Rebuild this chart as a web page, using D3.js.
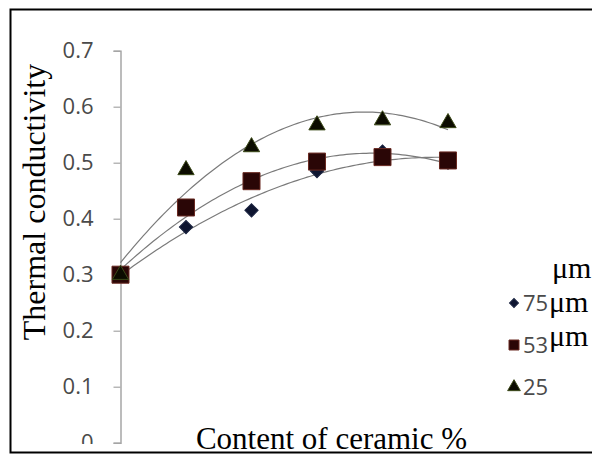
<!DOCTYPE html>
<html>
<head>
<meta charset="utf-8">
<script src="https://cdn.jsdelivr.net/npm/d3@7"></script>
<style>
  html, body { margin: 0; padding: 0; background: #fff; }
  svg { display: block; }
</style>
</head>
<body>
<svg id="chart" width="592" height="455"></svg>
<script>
// ---- data ----
const contents = [0, 1, 2, 3, 4, 5];             // category positions (content of ceramic)
const series75 = [0.30, 0.385, 0.415, 0.485, 0.52, 0.50];
const series53 = [0.30, 0.42, 0.467, 0.502, 0.51, 0.504];
const series25 = [0.30, 0.487, 0.528, 0.567, 0.576, 0.571];
const seriesNames = ["75", "53", "25"];
const unitLabel = "μm";
const yTicks = [0, 0.1, 0.2, 0.3, 0.4, 0.5, 0.6, 0.7];
const yTitle = "Thermal conductivity";
const xTitle = "Content of ceramic %";

const svg = d3.select("#chart");

const x = d3.scaleLinear().domain([0, 5]).range([120.5, 448]);
const y = d3.scaleLinear().domain([0, 0.7]).range([442.7, 50.7]);

// clip region for chart contents (picture is cut at bottom)
svg.append("defs").append("clipPath").attr("id", "clip")
  .append("rect").attr("x", 0).attr("y", 0).attr("width", 592).attr("height", 444);

const g = svg.append("g").attr("clip-path", "url(#clip)");

// y axis
const yAxis = d3.axisLeft(y).tickValues(yTicks).tickSize(7).tickPadding(20)
  .tickFormat(d => d === 0 ? "0" : d3.format(".1f")(d));
const ax = g.append("g").attr("transform", "translate(120.5,0)").call(yAxis);
ax.select(".domain").attr("stroke", "#a6a6a6").attr("stroke-width", 1.5);
ax.selectAll(".tick line").attr("stroke", "#a6a6a6").attr("stroke-width", 1.2);
ax.selectAll(".tick text")
  .attr("fill", "#4a4a4a")
  .style("font-family", "'Open Sans', sans-serif")
  .style("font-size", "22px");

// quadratic least-squares trendline
function quadFit(xs, ys) {
  let s = [0,0,0,0,0], t = [0,0,0];
  xs.forEach((xv, i) => {
    for (let k = 0; k < 5; k++) s[k] += Math.pow(xv, k);
    for (let k = 0; k < 3; k++) t[k] += Math.pow(xv, k) * ys[i];
  });
  const M = [[s[0], s[1], s[2], t[0]], [s[1], s[2], s[3], t[1]], [s[2], s[3], s[4], t[2]]];
  for (let i = 0; i < 3; i++) {
    for (let j = i + 1; j < 3; j++) {
      const f = M[j][i] / M[i][i];
      for (let k = i; k < 4; k++) M[j][k] -= f * M[i][k];
    }
  }
  const c = [0,0,0];
  for (let i = 2; i >= 0; i--) {
    let v = M[i][3];
    for (let k = i + 1; k < 3; k++) v -= M[i][k] * c[k];
    c[i] = v / M[i][i];
  }
  return xv => c[0] + c[1] * xv + c[2] * xv * xv;
}

const allSeries = [
  { name: seriesNames[0], values: series75, symbol: d3.symbolSquare, rot: 45, size: 88, fill: "#0e1530", stroke: "#1a2340", lsize: 40 },
  { name: seriesNames[1], values: series53, symbol: d3.symbolSquare, rot: 0, size: 290, fill: "#2a0606", stroke: "#6a2a22", lsize: 100 },
  { name: seriesNames[2], values: series25, symbol: d3.symbolTriangle, rot: 0, size: 115, fill: "#0c0c00", stroke: "#3c4a18", lsize: 70 }
];

const samples = d3.range(0, 5.0001, 0.05);
const line = d3.line().x(d => x(d[0])).y(d => y(d[1])).curve(d3.curveLinear);

allSeries.forEach(s => {
  const f = quadFit(contents, s.values);
  g.append("path")
    .attr("d", line(samples.map(v => [v, f(v)])))
    .attr("fill", "none")
    .attr("stroke", "#7a7a7a")
    .attr("stroke-width", 1.2);
});

allSeries.forEach(s => {
  g.selectAll(null).data(s.values).enter().append("path")
    .attr("transform", (d, i) => `translate(${x(contents[i])},${y(d)}) rotate(${s.rot})`)
    .attr("d", d3.symbol().type(s.symbol).size(s.size))
    .attr("fill", s.fill)
    .attr("stroke", s.stroke)
    .attr("stroke-width", 1);
});

// legend
const legY = [303, 345, 387];
allSeries.forEach((s, i) => {
  svg.append("path")
    .attr("transform", `translate(514,${legY[i]}) rotate(${s.rot})`)
    .attr("d", d3.symbol().type(s.symbol).size(s.lsize))
    .attr("fill", s.fill)
    .attr("stroke", s.stroke);
  svg.append("text")
    .attr("x", 523).attr("y", legY[i]).attr("dy", "0.36em")
    .attr("fill", "#4a4a4a")
    .style("font-family", "'Open Sans', sans-serif")
    .style("font-size", "22px")
    .text(s.name);
});
[[552, 278], [549, 312], [549, 346]].forEach(p => {
  svg.append("text")
    .attr("x", p[0]).attr("y", p[1])
    .attr("fill", "#000")
    .style("font-family", "'Liberation Serif', 'Times New Roman', serif")
    .style("font-size", "30px")
    .text(unitLabel);
});

// titles
svg.append("text")
  .attr("transform", "translate(45,202) rotate(-90)")
  .attr("text-anchor", "middle")
  .style("font-family", "'Liberation Serif', 'Times New Roman', serif")
  .style("font-size", "32px")
  .text(yTitle);

svg.append("text")
  .attr("x", 331.5).attr("y", 448.5)
  .attr("text-anchor", "middle")
  .style("font-family", "'Liberation Serif', 'Times New Roman', serif")
  .style("font-size", "31px")
  .text(xTitle);

// frame
svg.append("rect")
  .attr("x", 10.5).attr("y", 9.5)
  .attr("width", 600).attr("height", 443)
  .attr("fill", "none")
  .attr("stroke", "#000")
  .attr("stroke-width", 2);
</script>
</body>
</html>
